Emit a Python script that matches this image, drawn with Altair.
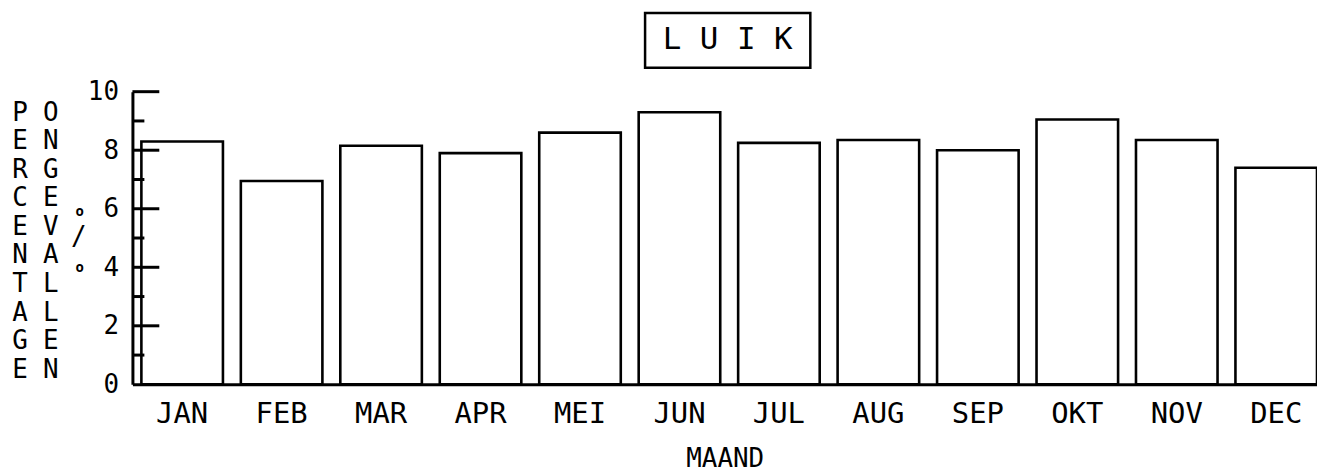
import altair as alt
import pandas as pd

months = ["JAN", "FEB", "MAR", "APR", "MEI", "JUN", "JUL", "AUG", "SEP", "OKT", "NOV", "DEC"]
percent = [8.3, 6.95, 8.15, 7.9, 8.6, 9.3, 8.25, 8.35, 8.0, 9.05, 8.35, 7.4]
major_ticks = [2, 4, 6, 8, 10]
minor_ticks = [1, 3, 5, 7, 9]
y_label_values = [0, 2, 4, 6, 8, 10]
title_text = "L U I K"
x_title = "MAAND"
y_title_1 = list("PERCENTAGE")
y_title_2 = list("ONGEVALLEN")

FONT = "DejaVu Sans Mono"
W, H = 1190, 294

df = pd.DataFrame({"maand": months, "pct": percent})
one = pd.DataFrame({"t": [title_text]})

yscale = alt.Scale(domain=[0, 10], nice=False, zero=True)
yaxis = alt.Axis(title=None, values=y_label_values, ticks=False, tickSize=0, grid=False,
                 labelPadding=14, labelFont=FONT, labelFontSize=26, labelColor="black",
                 domainWidth=3, domainColor="black")

bars = alt.Chart(df).mark_bar(fillOpacity=0, stroke="black", strokeWidth=2.6).encode(
    x=alt.X(
        "maand:N", sort=months,
        scale=alt.Scale(paddingInner=0.18, paddingOuter=0.045, align=1),
        axis=alt.Axis(title=x_title, labelAngle=0, ticks=False, tickSize=0, labelPadding=15,
                      labelFont=FONT, labelFontSize=29, labelColor="black",
                      titleFont=FONT, titleFontSize=26, titleFontWeight="normal",
                      titleColor="black", titlePadding=18,
                      domainWidth=3, domainColor="black", grid=False),
    ),
    y=alt.Y("pct:Q", scale=yscale, axis=yaxis),
)

maj = alt.Chart(pd.DataFrame({"pct": major_ticks})).mark_rule(color="black", strokeWidth=3).encode(
    y=alt.Y("pct:Q", scale=yscale, axis=yaxis), x=alt.value(0), x2=alt.value(27)
)
mino = alt.Chart(pd.DataFrame({"pct": minor_ticks})).mark_rule(color="black", strokeWidth=3).encode(
    y=alt.Y("pct:Q", scale=yscale, axis=yaxis), x=alt.value(0), x2=alt.value(12)
)

title_box = alt.Chart(one).mark_rect(fillOpacity=0, stroke="black", strokeWidth=2.5).encode(
    x=alt.value(515), x2=alt.value(681), y=alt.value(-79), y2=alt.value(-24)
)
title_txt = alt.Chart(one).mark_text(font=FONT, fontSize=31, align="center", baseline="middle",
                                     color="black").encode(
    text="t:N", x=alt.value(598), y=alt.value(-52)
)

col1 = alt.Chart(one).mark_text(text=y_title_1, font=FONT, fontSize=26, align="center",
                                baseline="top", lineHeight=28.7, color="black").encode(
    x=alt.value(-113), y=alt.value(8)
)
col2 = alt.Chart(one).mark_text(text=y_title_2, font=FONT, fontSize=26, align="center",
                                baseline="top", lineHeight=28.7, color="black").encode(
    x=alt.value(-82), y=alt.value(8)
)
circ1 = alt.Chart(one).mark_text(text="o", font=FONT, fontSize=14, fontWeight="bold",
                                 align="center", baseline="middle", color="black").encode(
    x=alt.value(-53), y=alt.value(121)
)
slash = alt.Chart(one).mark_text(text="/", font=FONT, fontSize=26, align="center",
                                 baseline="middle", color="black").encode(
    x=alt.value(-54), y=alt.value(146)
)
circ2 = alt.Chart(one).mark_text(text="o", font=FONT, fontSize=14, fontWeight="bold",
                                 align="center", baseline="middle", color="black").encode(
    x=alt.value(-53), y=alt.value(177)
)

chart = alt.layer(bars, maj, mino, title_box, title_txt, col1, col2, circ1, slash, circ2).properties(
    width=W, height=H,
    padding={"left": 125, "top": 83, "right": 0, "bottom": 89},
    autosize=alt.AutoSizeParams(type="none"),
).configure_view(stroke="transparent")

chart.save("out.html", embed_options={"renderer": "svg", "actions": False})
